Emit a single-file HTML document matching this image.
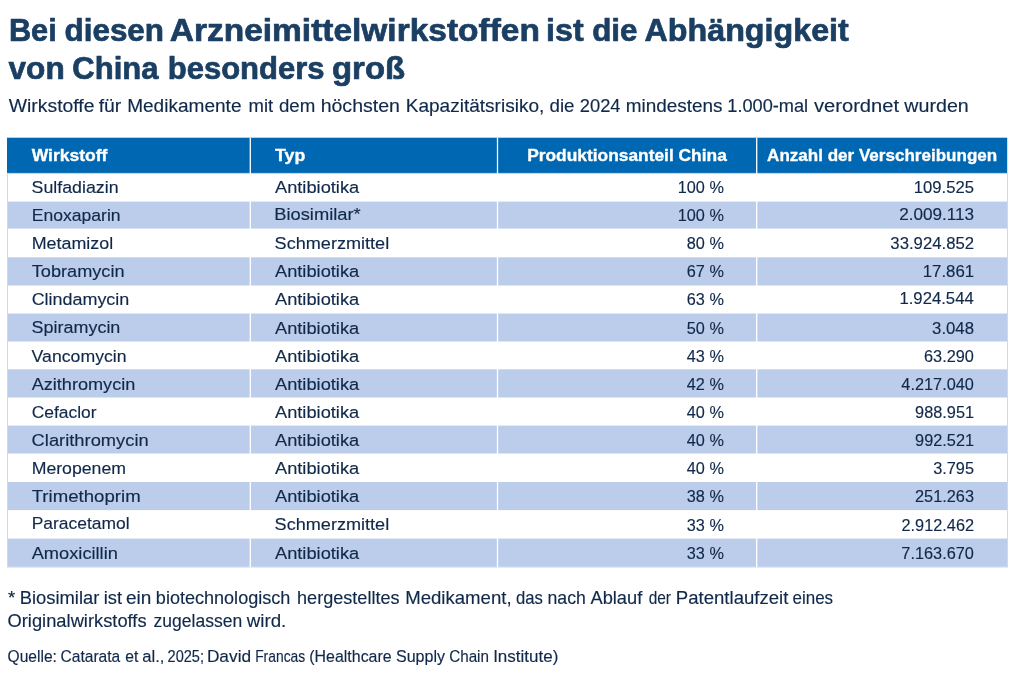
<!DOCTYPE html>
<html lang="de"><head><meta charset="utf-8"><title>Arzneimittelwirkstoffe China</title>
<style>
html,body{margin:0;padding:0;background:#fff;}
body{width:1020px;height:680px;overflow:hidden;}
svg{display:block;font-family:"Liberation Sans",sans-serif;}
text{white-space:pre;}
</style></head><body>
<svg width="1020" height="680" viewBox="0 0 1020 680">
<rect width="1020" height="680" fill="#fff"/>
<rect x="7.0" y="137.7" width="1000.2" height="35.70" fill="#0067b3"/>
<rect x="7.0" y="201.60" width="1001.0" height="27.00" fill="#bccdeb"/>
<rect x="7.0" y="257.30" width="1001.0" height="28.20" fill="#bccdeb"/>
<rect x="7.0" y="313.50" width="1001.0" height="28.00" fill="#bccdeb"/>
<rect x="7.0" y="369.30" width="1001.0" height="28.20" fill="#bccdeb"/>
<rect x="7.0" y="425.60" width="1001.0" height="27.90" fill="#bccdeb"/>
<rect x="7.0" y="482.00" width="1001.0" height="28.10" fill="#bccdeb"/>
<rect x="7.0" y="538.60" width="1001.0" height="28.70" fill="#bccdeb"/>
<rect x="7.5" y="173.40" width="1000.0" height="393.40" fill="none" stroke="#cdd9f0" stroke-width="1"/>
<rect x="249.65" y="137.7" width="1.3" height="429.60" fill="#fff"/>
<rect x="496.85" y="137.7" width="1.3" height="429.60" fill="#fff"/>
<rect x="756.05" y="137.7" width="1.3" height="429.60" fill="#fff"/>
<g>
<text transform="translate(8.89 40.70) scale(0.9915 1)" font-size="31" font-weight="700" stroke="#1b3f63" stroke-width="0.7" stroke-linejoin="round" fill="#1b3f63">Bei</text>
<text transform="translate(64.56 40.70) scale(1.0125 1)" font-size="31" font-weight="700" stroke="#1b3f63" stroke-width="0.7" stroke-linejoin="round" fill="#1b3f63">diesen</text>
<text transform="translate(169.82 40.70) scale(1.0798 1)" font-size="31" font-weight="700" stroke="#1b3f63" stroke-width="0.7" stroke-linejoin="round" fill="#1b3f63">Arzneimittelwirkstoffen</text>
<text transform="translate(546.10 40.70) scale(1.0376 1)" font-size="31" font-weight="700" stroke="#1b3f63" stroke-width="0.7" stroke-linejoin="round" fill="#1b3f63">ist</text>
<text transform="translate(592.16 40.70) scale(1.0127 1)" font-size="31" font-weight="700" stroke="#1b3f63" stroke-width="0.7" stroke-linejoin="round" fill="#1b3f63">die</text>
<text transform="translate(644.55 40.70) scale(1.0403 1)" font-size="31" font-weight="700" stroke="#1b3f63" stroke-width="0.7" stroke-linejoin="round" fill="#1b3f63">Abhängigkeit</text>
</g>
<g>
<text transform="translate(8.53 78.80) scale(1.0194 1)" font-size="31" font-weight="700" stroke="#1b3f63" stroke-width="0.7" stroke-linejoin="round" fill="#1b3f63">von</text>
<text transform="translate(72.33 78.80) scale(1.0001 1)" font-size="31" font-weight="700" stroke="#1b3f63" stroke-width="0.7" stroke-linejoin="round" fill="#1b3f63">China</text>
<text transform="translate(167.71 78.80) scale(1.0003 1)" font-size="31" font-weight="700" stroke="#1b3f63" stroke-width="0.7" stroke-linejoin="round" fill="#1b3f63">besonders</text>
<text transform="translate(332.00 78.80) scale(1.0611 1)" font-size="31" font-weight="700" stroke="#1b3f63" stroke-width="0.7" stroke-linejoin="round" fill="#1b3f63">groß</text>
</g>
<g>
<text transform="translate(8.71 111.80) scale(1.0714 1)" font-size="18.1" stroke="#10284a" stroke-width="0.15" stroke-linejoin="round" fill="#10284a">Wirkstoffe</text>
<text transform="translate(98.73 111.80) scale(1.0697 1)" font-size="18.1" stroke="#10284a" stroke-width="0.15" stroke-linejoin="round" fill="#10284a">für</text>
<text transform="translate(127.14 111.80) scale(1.0530 1)" font-size="18.1" stroke="#10284a" stroke-width="0.15" stroke-linejoin="round" fill="#10284a">Medikamente</text>
<text transform="translate(248.47 111.80) scale(1.0222 1)" font-size="18.1" stroke="#10284a" stroke-width="0.15" stroke-linejoin="round" fill="#10284a">mit</text>
<text transform="translate(278.92 111.80) scale(1.0314 1)" font-size="18.1" stroke="#10284a" stroke-width="0.15" stroke-linejoin="round" fill="#10284a">dem</text>
<text transform="translate(320.64 111.80) scale(1.0798 1)" font-size="18.1" stroke="#10284a" stroke-width="0.15" stroke-linejoin="round" fill="#10284a">höchsten</text>
<text transform="translate(405.74 111.80) scale(1.0523 1)" font-size="18.1" stroke="#10284a" stroke-width="0.15" stroke-linejoin="round" fill="#10284a">Kapazitätsrisiko,</text>
<text transform="translate(549.51 111.80) scale(1.0359 1)" font-size="18.1" stroke="#10284a" stroke-width="0.15" stroke-linejoin="round" fill="#10284a">die</text>
<text transform="translate(579.78 111.80) scale(1.0122 1)" font-size="18.1" stroke="#10284a" stroke-width="0.15" stroke-linejoin="round" fill="#10284a">2024</text>
<text transform="translate(625.74 111.80) scale(1.0474 1)" font-size="18.1" stroke="#10284a" stroke-width="0.15" stroke-linejoin="round" fill="#10284a">mindestens</text>
<text transform="translate(727.31 111.80) scale(1.0052 1)" font-size="18.1" stroke="#10284a" stroke-width="0.15" stroke-linejoin="round" fill="#10284a">1.000-mal</text>
<text transform="translate(813.93 111.80) scale(1.1144 1)" font-size="18.1" stroke="#10284a" stroke-width="0.15" stroke-linejoin="round" fill="#10284a">verordnet</text>
<text transform="translate(904.33 111.80) scale(1.0856 1)" font-size="18.1" stroke="#10284a" stroke-width="0.15" stroke-linejoin="round" fill="#10284a">wurden</text>
</g>
<text transform="translate(31.68 160.50) scale(1.0072 1)" font-size="17.4" font-weight="700" stroke="#fff" stroke-width="0.35" stroke-linejoin="round" fill="#fff">Wirkstoff</text>
<text transform="translate(275.00 160.50) scale(1.0197 1)" font-size="17.4" font-weight="700" stroke="#fff" stroke-width="0.35" stroke-linejoin="round" fill="#fff">Typ</text>
<text transform="translate(527.14 160.50) scale(0.9982 1)" font-size="17.4" font-weight="700" stroke="#fff" stroke-width="0.35" stroke-linejoin="round" fill="#fff">Produktionsanteil China</text>
<text transform="translate(767.08 160.50) scale(0.9801 1)" font-size="17.4" font-weight="700" stroke="#fff" stroke-width="0.35" stroke-linejoin="round" fill="#fff">Anzahl der Verschreibungen</text>
<text transform="translate(31.59 193.25) scale(1.0228 1)" font-size="17.4" stroke="#10284a" stroke-width="0.15" stroke-linejoin="round" fill="#10284a">Sulfadiazin</text>
<text transform="translate(274.96 193.25) scale(1.0499 1)" font-size="17.4" stroke="#10284a" stroke-width="0.15" stroke-linejoin="round" fill="#10284a">Antibiotika</text>
<text transform="translate(677.75 193.25) scale(0.9350 1)" font-size="17.4" stroke="#10284a" stroke-width="0.15" stroke-linejoin="round" fill="#10284a">100 %</text>
<text transform="translate(913.73 193.25) scale(0.9582 1)" font-size="17.4" stroke="#10284a" stroke-width="0.15" stroke-linejoin="round" fill="#10284a">109.525</text>
<text transform="translate(31.66 221.30) scale(1.0109 1)" font-size="17.4" stroke="#10284a" stroke-width="0.15" stroke-linejoin="round" fill="#10284a">Enoxaparin</text>
<text transform="translate(274.20 220.30) scale(1.0536 1)" font-size="17.4" stroke="#10284a" stroke-width="0.15" stroke-linejoin="round" fill="#10284a">Biosimilar*</text>
<text transform="translate(677.75 221.30) scale(0.9350 1)" font-size="17.4" stroke="#10284a" stroke-width="0.15" stroke-linejoin="round" fill="#10284a">100 %</text>
<text transform="translate(899.14 220.30) scale(0.9842 1)" font-size="17.4" stroke="#10284a" stroke-width="0.15" stroke-linejoin="round" fill="#10284a">2.009.113</text>
<text transform="translate(31.63 248.75) scale(1.0288 1)" font-size="17.4" stroke="#10284a" stroke-width="0.15" stroke-linejoin="round" fill="#10284a">Metamizol</text>
<text transform="translate(274.58 248.65) scale(1.0400 1)" font-size="17.4" stroke="#10284a" stroke-width="0.15" stroke-linejoin="round" fill="#10284a">Schmerzmittel</text>
<text transform="translate(686.80 249.35) scale(0.9350 1)" font-size="17.4" stroke="#10284a" stroke-width="0.15" stroke-linejoin="round" fill="#10284a">80 %</text>
<text transform="translate(890.36 249.35) scale(0.9620 1)" font-size="17.4" stroke="#10284a" stroke-width="0.15" stroke-linejoin="round" fill="#10284a">33.924.852</text>
<text transform="translate(31.69 277.10) scale(1.0453 1)" font-size="17.4" stroke="#10284a" stroke-width="0.15" stroke-linejoin="round" fill="#10284a">Tobramycin</text>
<text transform="translate(274.96 277.40) scale(1.0499 1)" font-size="17.4" stroke="#10284a" stroke-width="0.15" stroke-linejoin="round" fill="#10284a">Antibiotika</text>
<text transform="translate(686.80 277.40) scale(0.9350 1)" font-size="17.4" stroke="#10284a" stroke-width="0.15" stroke-linejoin="round" fill="#10284a">67 %</text>
<text transform="translate(922.72 277.40) scale(0.9658 1)" font-size="17.4" stroke="#10284a" stroke-width="0.15" stroke-linejoin="round" fill="#10284a">17.861</text>
<text transform="translate(31.64 305.45) scale(1.0318 1)" font-size="17.4" stroke="#10284a" stroke-width="0.15" stroke-linejoin="round" fill="#10284a">Clindamycin</text>
<text transform="translate(274.96 305.45) scale(1.0499 1)" font-size="17.4" stroke="#10284a" stroke-width="0.15" stroke-linejoin="round" fill="#10284a">Antibiotika</text>
<text transform="translate(686.80 305.45) scale(0.9350 1)" font-size="17.4" stroke="#10284a" stroke-width="0.15" stroke-linejoin="round" fill="#10284a">63 %</text>
<text transform="translate(899.43 304.45) scale(0.9607 1)" font-size="17.4" stroke="#10284a" stroke-width="0.15" stroke-linejoin="round" fill="#10284a">1.924.544</text>
<text transform="translate(31.58 332.70) scale(1.0322 1)" font-size="17.4" stroke="#10284a" stroke-width="0.15" stroke-linejoin="round" fill="#10284a">Spiramycin</text>
<text transform="translate(274.96 333.50) scale(1.0499 1)" font-size="17.4" stroke="#10284a" stroke-width="0.15" stroke-linejoin="round" fill="#10284a">Antibiotika</text>
<text transform="translate(686.80 333.50) scale(0.9350 1)" font-size="17.4" stroke="#10284a" stroke-width="0.15" stroke-linejoin="round" fill="#10284a">50 %</text>
<text transform="translate(932.06 333.50) scale(0.9638 1)" font-size="17.4" stroke="#10284a" stroke-width="0.15" stroke-linejoin="round" fill="#10284a">3.048</text>
<text transform="translate(31.62 361.55) scale(1.0165 1)" font-size="17.4" stroke="#10284a" stroke-width="0.15" stroke-linejoin="round" fill="#10284a">Vancomycin</text>
<text transform="translate(274.96 361.55) scale(1.0499 1)" font-size="17.4" stroke="#10284a" stroke-width="0.15" stroke-linejoin="round" fill="#10284a">Antibiotika</text>
<text transform="translate(686.80 361.55) scale(0.9350 1)" font-size="17.4" stroke="#10284a" stroke-width="0.15" stroke-linejoin="round" fill="#10284a">43 %</text>
<text transform="translate(924.02 361.55) scale(0.9380 1)" font-size="17.4" stroke="#10284a" stroke-width="0.15" stroke-linejoin="round" fill="#10284a">63.290</text>
<text transform="translate(31.66 389.60) scale(1.0419 1)" font-size="17.4" stroke="#10284a" stroke-width="0.15" stroke-linejoin="round" fill="#10284a">Azithromycin</text>
<text transform="translate(274.96 389.60) scale(1.0499 1)" font-size="17.4" stroke="#10284a" stroke-width="0.15" stroke-linejoin="round" fill="#10284a">Antibiotika</text>
<text transform="translate(686.80 389.60) scale(0.9350 1)" font-size="17.4" stroke="#10284a" stroke-width="0.15" stroke-linejoin="round" fill="#10284a">42 %</text>
<text transform="translate(901.33 389.60) scale(0.9380 1)" font-size="17.4" stroke="#10284a" stroke-width="0.15" stroke-linejoin="round" fill="#10284a">4.217.040</text>
<text transform="translate(31.67 417.65) scale(1.0013 1)" font-size="17.4" stroke="#10284a" stroke-width="0.15" stroke-linejoin="round" fill="#10284a">Cefaclor</text>
<text transform="translate(274.96 417.65) scale(1.0499 1)" font-size="17.4" stroke="#10284a" stroke-width="0.15" stroke-linejoin="round" fill="#10284a">Antibiotika</text>
<text transform="translate(686.80 417.65) scale(0.9350 1)" font-size="17.4" stroke="#10284a" stroke-width="0.15" stroke-linejoin="round" fill="#10284a">40 %</text>
<text transform="translate(915.10 417.65) scale(0.9380 1)" font-size="17.4" stroke="#10284a" stroke-width="0.15" stroke-linejoin="round" fill="#10284a">988.951</text>
<text transform="translate(31.62 445.70) scale(1.0529 1)" font-size="17.4" stroke="#10284a" stroke-width="0.15" stroke-linejoin="round" fill="#10284a">Clarithromycin</text>
<text transform="translate(274.96 445.70) scale(1.0499 1)" font-size="17.4" stroke="#10284a" stroke-width="0.15" stroke-linejoin="round" fill="#10284a">Antibiotika</text>
<text transform="translate(686.80 445.70) scale(0.9350 1)" font-size="17.4" stroke="#10284a" stroke-width="0.15" stroke-linejoin="round" fill="#10284a">40 %</text>
<text transform="translate(915.10 445.70) scale(0.9380 1)" font-size="17.4" stroke="#10284a" stroke-width="0.15" stroke-linejoin="round" fill="#10284a">992.521</text>
<text transform="translate(31.65 473.75) scale(1.0180 1)" font-size="17.4" stroke="#10284a" stroke-width="0.15" stroke-linejoin="round" fill="#10284a">Meropenem</text>
<text transform="translate(274.96 473.75) scale(1.0499 1)" font-size="17.4" stroke="#10284a" stroke-width="0.15" stroke-linejoin="round" fill="#10284a">Antibiotika</text>
<text transform="translate(686.80 473.75) scale(0.9350 1)" font-size="17.4" stroke="#10284a" stroke-width="0.15" stroke-linejoin="round" fill="#10284a">40 %</text>
<text transform="translate(933.14 473.75) scale(0.9380 1)" font-size="17.4" stroke="#10284a" stroke-width="0.15" stroke-linejoin="round" fill="#10284a">3.795</text>
<text transform="translate(31.68 502.20) scale(1.0708 1)" font-size="17.4" stroke="#10284a" stroke-width="0.15" stroke-linejoin="round" fill="#10284a">Trimethoprim</text>
<text transform="translate(274.96 502.20) scale(1.0499 1)" font-size="17.4" stroke="#10284a" stroke-width="0.15" stroke-linejoin="round" fill="#10284a">Antibiotika</text>
<text transform="translate(686.80 502.20) scale(0.9350 1)" font-size="17.4" stroke="#10284a" stroke-width="0.15" stroke-linejoin="round" fill="#10284a">38 %</text>
<text transform="translate(915.02 502.20) scale(0.9380 1)" font-size="17.4" stroke="#10284a" stroke-width="0.15" stroke-linejoin="round" fill="#10284a">251.263</text>
<text transform="translate(31.67 529.15) scale(1.0033 1)" font-size="17.4" stroke="#10284a" stroke-width="0.15" stroke-linejoin="round" fill="#10284a">Paracetamol</text>
<text transform="translate(274.58 529.85) scale(1.0400 1)" font-size="17.4" stroke="#10284a" stroke-width="0.15" stroke-linejoin="round" fill="#10284a">Schmerzmittel</text>
<text transform="translate(686.80 530.55) scale(0.9350 1)" font-size="17.4" stroke="#10284a" stroke-width="0.15" stroke-linejoin="round" fill="#10284a">33 %</text>
<text transform="translate(901.51 530.55) scale(0.9380 1)" font-size="17.4" stroke="#10284a" stroke-width="0.15" stroke-linejoin="round" fill="#10284a">2.912.462</text>
<text transform="translate(31.66 558.60) scale(1.0498 1)" font-size="17.4" stroke="#10284a" stroke-width="0.15" stroke-linejoin="round" fill="#10284a">Amoxicillin</text>
<text transform="translate(274.96 559.10) scale(1.0499 1)" font-size="17.4" stroke="#10284a" stroke-width="0.15" stroke-linejoin="round" fill="#10284a">Antibiotika</text>
<text transform="translate(686.80 559.10) scale(0.9350 1)" font-size="17.4" stroke="#10284a" stroke-width="0.15" stroke-linejoin="round" fill="#10284a">33 %</text>
<text transform="translate(901.33 559.10) scale(0.9380 1)" font-size="17.4" stroke="#10284a" stroke-width="0.15" stroke-linejoin="round" fill="#10284a">7.163.670</text>
<g>
<text transform="translate(8.10 603.80) scale(1.0552 1)" font-size="17.5" stroke="#10284a" stroke-width="0.15" stroke-linejoin="round" fill="#10284a">*</text>
<text transform="translate(19.69 603.80) scale(1.0497 1)" font-size="17.5" stroke="#10284a" stroke-width="0.15" stroke-linejoin="round" fill="#10284a">Biosimilar</text>
<text transform="translate(103.77 603.80) scale(1.0493 1)" font-size="17.5" stroke="#10284a" stroke-width="0.15" stroke-linejoin="round" fill="#10284a">ist</text>
<text transform="translate(125.89 603.80) scale(1.0851 1)" font-size="17.5" stroke="#10284a" stroke-width="0.15" stroke-linejoin="round" fill="#10284a">ein</text>
<text transform="translate(155.84 603.80) scale(1.0327 1)" font-size="17.5" stroke="#10284a" stroke-width="0.15" stroke-linejoin="round" fill="#10284a">biotechnologisch</text>
<text transform="translate(297.05 603.80) scale(1.0341 1)" font-size="17.5" stroke="#10284a" stroke-width="0.15" stroke-linejoin="round" fill="#10284a">hergestelltes</text>
<text transform="translate(405.17 603.80) scale(1.0630 1)" font-size="17.5" stroke="#10284a" stroke-width="0.15" stroke-linejoin="round" fill="#10284a">Medikament,</text>
<text transform="translate(516.00 603.80) scale(0.9535 1)" font-size="17.5" stroke="#10284a" stroke-width="0.15" stroke-linejoin="round" fill="#10284a">das</text>
<text transform="translate(547.53 603.80) scale(1.0098 1)" font-size="17.5" stroke="#10284a" stroke-width="0.15" stroke-linejoin="round" fill="#10284a">nach</text>
<text transform="translate(590.46 603.80) scale(1.0441 1)" font-size="17.5" stroke="#10284a" stroke-width="0.15" stroke-linejoin="round" fill="#10284a">Ablauf</text>
<text transform="translate(648.65 603.80) scale(0.8818 1)" font-size="17.5" stroke="#10284a" stroke-width="0.15" stroke-linejoin="round" fill="#10284a">der</text>
<text transform="translate(675.77 603.80) scale(1.0624 1)" font-size="17.5" stroke="#10284a" stroke-width="0.15" stroke-linejoin="round" fill="#10284a">Patentlaufzeit</text>
<text transform="translate(792.58 603.80) scale(0.9688 1)" font-size="17.5" stroke="#10284a" stroke-width="0.15" stroke-linejoin="round" fill="#10284a">eines</text>
</g>
<g>
<text transform="translate(7.53 626.80) scale(1.0468 1)" font-size="17.5" stroke="#10284a" stroke-width="0.15" stroke-linejoin="round" fill="#10284a">Originalwirkstoffs</text>
<text transform="translate(153.59 626.80) scale(1.0001 1)" font-size="17.5" stroke="#10284a" stroke-width="0.15" stroke-linejoin="round" fill="#10284a">zugelassen</text>
<text transform="translate(246.73 626.80) scale(1.0713 1)" font-size="17.5" stroke="#10284a" stroke-width="0.15" stroke-linejoin="round" fill="#10284a">wird.</text>
</g>
<g>
<text transform="translate(7.56 662.10) scale(0.9798 1)" font-size="15.9" stroke="#10284a" stroke-width="0.15" stroke-linejoin="round" fill="#10284a">Quelle:</text>
<text transform="translate(60.51 662.10) scale(0.9804 1)" font-size="15.9" stroke="#10284a" stroke-width="0.15" stroke-linejoin="round" fill="#10284a">Catarata</text>
<text transform="translate(125.33 662.10) scale(0.9865 1)" font-size="15.9" stroke="#10284a" stroke-width="0.15" stroke-linejoin="round" fill="#10284a">et</text>
<text transform="translate(142.29 662.10) scale(1.0468 1)" font-size="15.9" stroke="#10284a" stroke-width="0.15" stroke-linejoin="round" fill="#10284a">al.,</text>
<text transform="translate(167.57 662.10) scale(0.9158 1)" font-size="15.9" stroke="#10284a" stroke-width="0.15" stroke-linejoin="round" fill="#10284a">2025;</text>
<text transform="translate(206.88 662.10) scale(1.0882 1)" font-size="15.9" stroke="#10284a" stroke-width="0.15" stroke-linejoin="round" fill="#10284a">David</text>
<text transform="translate(255.16 662.10) scale(0.8712 1)" font-size="15.9" stroke="#10284a" stroke-width="0.15" stroke-linejoin="round" fill="#10284a">Francas</text>
<text transform="translate(309.31 662.10) scale(1.0026 1)" font-size="15.9" stroke="#10284a" stroke-width="0.15" stroke-linejoin="round" fill="#10284a">(Healthcare</text>
<text transform="translate(395.97 662.10) scale(1.0091 1)" font-size="15.9" stroke="#10284a" stroke-width="0.15" stroke-linejoin="round" fill="#10284a">Supply</text>
<text transform="translate(449.23 662.10) scale(0.9571 1)" font-size="15.9" stroke="#10284a" stroke-width="0.15" stroke-linejoin="round" fill="#10284a">Chain</text>
<text transform="translate(493.13 662.10) scale(1.0697 1)" font-size="15.9" stroke="#10284a" stroke-width="0.15" stroke-linejoin="round" fill="#10284a">Institute)</text>
</g>
</svg>
</body></html>
